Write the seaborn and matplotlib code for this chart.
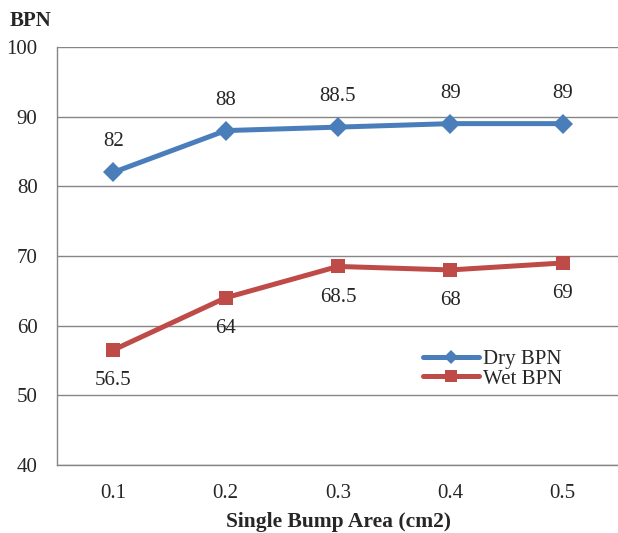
import pandas as pd
import seaborn as sns
import matplotlib.pyplot as plt
from matplotlib.ticker import FixedLocator

areas = ["0.1", "0.2", "0.3", "0.4", "0.5"]
dry_bpn = [82, 88, 88.5, 89, 89]
wet_bpn = [56.5, 64, 68.5, 68, 69]
dry_labels = ["82", "88", "88.5", "89", "89"]
wet_labels = ["56.5", "64", "68.5", "68", "69"]

df = pd.DataFrame({
    "area": areas * 2,
    "pos": list(range(len(areas))) * 2,
    "bpn": dry_bpn + wet_bpn,
    "series": ["Dry BPN"] * len(areas) + ["Wet BPN"] * len(areas),
})

sns.set_style("white")
plt.rcParams["font.family"] = ["Liberation Serif", "DejaVu Serif"]

fig = plt.figure(figsize=(6.18, 5.33), dpi=100)
ax = fig.add_axes([57 / 618, 68 / 533, 562 / 618, 418 / 533])

palette = {"Dry BPN": "#4A7EBB", "Wet BPN": "#BE4B48"}
markers = {"Dry BPN": "D", "Wet BPN": "s"}
sns.lineplot(data=df, x="pos", y="bpn", hue="series", style="series",
             palette=palette, markers=markers, dashes=False, linewidth=3.6,
             markeredgewidth=0, ax=ax)
for line in ax.lines:
    if line.get_marker() in ("D", "s"):
        line.set_markersize(10.5)

ax.set_xlim(-0.5, len(areas) - 0.5)
ax.set_ylim(40, 100)
ax.set_yticks(range(40, 101, 10))
ax.set_xticks(range(len(areas)))
ax.set_xticklabels(areas)
ax.xaxis.set_minor_locator(FixedLocator([i - 0.5 for i in range(len(areas) + 1)]))
ax.tick_params(axis="x", which="major", length=0, pad=14, labelsize=15)
ax.tick_params(axis="x", which="minor", length=5, color="#868686", direction="out")
ax.tick_params(axis="y", length=5, color="#868686", direction="out", labelsize=15, pad=9)
ax.yaxis.grid(True, color="#868686", linewidth=1)
ax.set_axisbelow(True)
for s in ["top", "right"]:
    ax.spines[s].set_visible(False)
for s in ["left", "bottom"]:
    ax.spines[s].set_color("#868686")
    ax.spines[s].set_linewidth(1)

for i, (d, lab) in enumerate(zip(dry_bpn, dry_labels)):
    ax.annotate(lab, (i, d), xytext=(0, 22), textcoords="offset points",
                ha="center", va="center", fontsize=15)
for i, (w, lab) in enumerate(zip(wet_bpn, wet_labels)):
    ax.annotate(lab, (i, w), xytext=(0, -22), textcoords="offset points",
                ha="center", va="center", fontsize=15)

ax.set_xlabel("Single Bump Area (cm2)", fontsize=15.5, fontweight="bold", labelpad=6)
ax.set_ylabel("")
fig.text(10 / 618, 1 - 21 / 533, "BPN", fontsize=15, fontweight="bold", va="center")

leg = ax.legend(loc="center left", bbox_to_anchor=((423 - 57) / 562, (465 - 369) / 418),
                frameon=False, fontsize=15, handlelength=2.7, handletextpad=0.2,
                labelspacing=0.0, borderaxespad=0, borderpad=0)
for h in leg.legend_handles:
    h.set_markersize(7 if h.get_marker() == "D" else 8)

plt.savefig("out.png", dpi=100)
